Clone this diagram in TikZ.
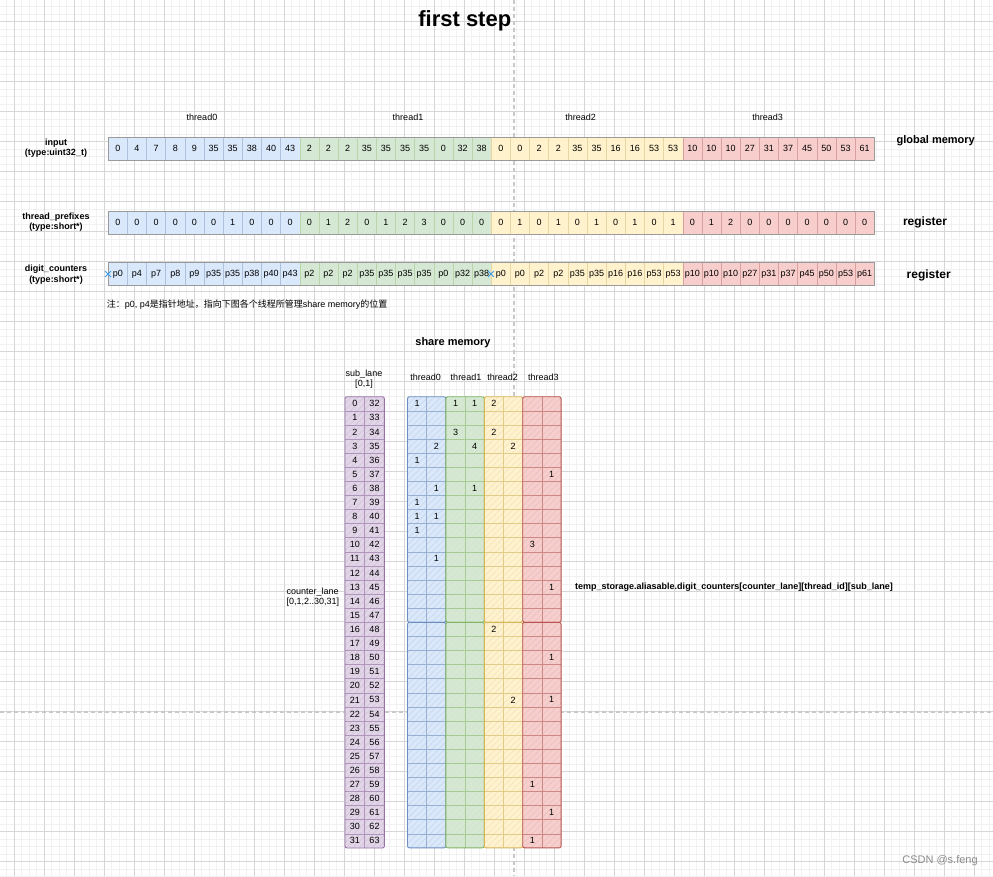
\documentclass[tikz,border=0pt]{standalone}
\usepackage{fontspec}
\setmainfont{Liberation Sans}
\newfontfamily\cjk{Noto Sans CJK SC}
\usetikzlibrary{patterns,patterns.meta,shapes.misc}
\newcommand\myfs[1]{\fontsize{#1}{#1}\selectfont}
\definecolor{bF}{HTML}{DAE8FC}\definecolor{bS}{HTML}{6C8EBF}
\definecolor{gF}{HTML}{D5E8D4}\definecolor{gS}{HTML}{82B366}
\definecolor{yF}{HTML}{FFF2CC}\definecolor{yS}{HTML}{D6B656}
\definecolor{rF}{HTML}{F8CECC}\definecolor{rS}{HTML}{B85450}
\definecolor{pF}{HTML}{E1D5E7}\definecolor{pS}{HTML}{9673A6}
\definecolor{gridMaj}{HTML}{D6D6D6}\definecolor{gridMin}{HTML}{F1F1F1}
\definecolor{pagebrk}{HTML}{C8C8C8}\definecolor{frame}{HTML}{9A9A9A}
\definecolor{xblue}{HTML}{3D9BE9}
\tikzset{
  cell/.style={inner sep=0, minimum width=19.15, minimum height=23, anchor=north west, font=\myfs{9}, line width=0.5},
  rowframe/.style={draw=frame, line width=1},
  lbl/.style={inner sep=0, font=\myfs{9}},
  boldlbl/.style={inner sep=0, align=center, font=\fontsize{9}{10.6}\selectfont\bfseries},
  reglbl/.style={inner sep=0, font=\myfs{12}\bfseries},
  smnum/.style={inner sep=0, font=\myfs{9}},
  xmark/.style={cross out, draw=xblue, line width=0.9, minimum size=5, inner sep=0},
  hatch/.style={pattern={Lines[angle=45,distance=4.5pt,line width=0.7pt]}, pattern color=#1}
}
\begin{document}
\begin{tikzpicture}[x=1pt,y=-1pt]
\useasboundingbox (0,0) rectangle (993,876);
\fill[white] (0,0) rectangle (993,876);
% background grid
\foreach \i in {0,...,133} \draw[gridMin, line width=0.8] ({-0.7+7.5*\i},0) -- ({-0.7+7.5*\i},876);
\foreach \i in {0,...,117} \draw[gridMin, line width=0.8] (0,{-0.8+7.5*\i}) -- (993,{-0.8+7.5*\i});
\foreach \i in {0,...,32} \draw[gridMaj, line width=0.9] ({14.3+30*\i},0) -- ({14.3+30*\i},876);
\foreach \i in {0,...,28} \draw[gridMaj, line width=0.9] (0,{21.7+30*\i}) -- (993,{21.7+30*\i});
\draw[pagebrk, line width=1.3, dash pattern=on 4 off 3] (514,0) -- (514,876);
\draw[pagebrk, line width=1.3, dash pattern=on 4 off 3] (0,712) -- (993,712);

% title
\node[inner sep=0, font=\myfs{22}\bfseries] (title) at (464.8,21) {first step};

% thread labels top
\node[lbl] (th0) at (202,117) {thread0};
\node[lbl] (th1) at (408,117) {thread1};
\node[lbl] (th2) at (580.7,117) {thread2};
\node[lbl] (th3) at (767.7,117) {thread3};

% left labels
\node[boldlbl] (linput) at (56,148) {input\\(type:uint32\_t)};
\node[boldlbl] (lprefix) at (56,222) {thread\_prefixes\\(type:short*)};
\node[boldlbl] (lcount) at (56,274.5) {digit\_counters\\(type:short*)};

% right labels
\node[inner sep=0, font=\myfs{11}\bfseries] (rglobal) at (935.7,140.7) {global memory};
\node[reglbl] (rreg1) at (925,222.7) {register};
\node[reglbl] (rreg2) at (928.7,275.7) {register};

% input row and digit counters row
\foreach \t/\fc/\sc/\vals in {0/bF/bS/{0,4,7,8,9,35,35,38,40,43},1/gF/gS/{2,2,2,35,35,35,35,0,32,38},2/yF/yS/{0,0,2,2,35,35,16,16,53,53},3/rF/rS/{10,10,10,27,31,37,45,50,53,61}}{
  \foreach \v [count=\i from 0] in \vals {
    \node[cell, fill=\fc, draw=\sc!55] (in-\t-\i) at ({108+(\t*10+\i)*19.15},137) {\v};
    \node[cell, fill=\fc, draw=\sc!55] (dc-\t-\i) at ({108+(\t*10+\i)*19.15},262.3) {p\v};
  }
}
% thread prefixes row
\foreach \t/\fc/\sc/\vals in {0/bF/bS/{0,0,0,0,0,0,1,0,0,0},1/gF/gS/{0,1,2,0,1,2,3,0,0,0},2/yF/yS/{0,1,0,1,0,1,0,1,0,1},3/rF/rS/{0,1,2,0,0,0,0,0,0,0}}{
  \foreach \v [count=\i from 0] in \vals {
    \node[cell, fill=\fc, draw=\sc!55] (tp-\t-\i) at ({108+(\t*10+\i)*19.15},211) {\v};
  }
}
\draw[rowframe] (in-0-0.north west) rectangle (in-3-9.south east);
\draw[rowframe] (tp-0-0.north west) rectangle (tp-3-9.south east);
\draw[rowframe] (dc-0-0.north west) rectangle (dc-3-9.south east);
\node[xmark] (xm1) at (dc-0-0.west) {};
\node[xmark] (xm2) at (dc-2-0.west) {};

% note
\node[inner sep=0, anchor=west, font=\myfs{9}] (note) at (106.7,305) {{\cjk 注：}p0, p4{\cjk 是指针地址，指向下图各个线程所管理}share memory{\cjk 的位置}};

% share memory
\node[inner sep=0, font=\myfs{11}\bfseries] (smtitle) at (453,342.7) {share memory};
\node[inner sep=0, align=center, font=\fontsize{9}{10.3}\selectfont] (sublane) at (364,379.2) {sub\_lane\\{[0,1]}};
\node[inner sep=0, align=left, anchor=west, font=\fontsize{9}{9.4}\selectfont] (clane) at (286.5,597) {counter\_lane\\{[0,1,2..30,31]}};
\node[inner sep=0, anchor=west, font=\myfs{9}\bfseries] (tsname) at (575,587.3) {temp\_storage.aliasable.digit\_counters[counter\_lane][thread\_id][sub\_lane]};

\node[lbl] (st0) at (425.7,377.7) {thread0};
\node[lbl] (st1) at (466,377.7) {thread1};
\node[lbl] (st2) at (502.7,377.7) {thread2};
\node[lbl] (st3) at (543.3,377.7) {thread3};

% purple sub_lane column
\path[fill=pF, rounded corners=2, postaction={hatch=pS!40}] (345,396.7) rectangle (384.4,848);
\foreach \r in {1,...,31} \draw[pS!75, line width=0.5] (345,{396.7+14.1*\r}) -- (384.4,{396.7+14.1*\r});
\draw[pS!75, line width=0.5] (364.7,396.7) -- (364.7,848);
\draw[pS, line width=0.9, rounded corners=2] (345,396.7) rectangle (384.4,848);
\foreach \r in {0,...,31} {
  \pgfmathtruncatemacro\rr{\r+32}
  \node[smnum] (sl-\r-0) at (354.9,{396.7+14.1*\r+7.05}) {\r};
  \node[smnum] (sl-\r-1) at (374.5,{396.7+14.1*\r+7.05}) {\rr};
}

% thread columns
\foreach \t/\fc/\sc in {0/bF/bS,1/gF/gS,2/yF/yS,3/rF/rS} {
  \pgfmathsetmacro\xa{407.5+38.4*\t}
  \foreach \h in {0,1} {
    \pgfmathsetmacro\ya{396.7+225.6*\h}
    \path[fill=\fc, rounded corners=2, postaction={hatch=\sc!35}] (\xa,\ya) rectangle ++(38.4,225.6);
    \foreach \r in {1,...,15} \draw[\sc!70, line width=0.5] (\xa,{\ya+14.1*\r}) -- ++(38.4,0);
    \draw[\sc!70, line width=0.5] ({\xa+19.2},\ya) -- ++(0,225.6);
    \draw[\sc, line width=0.9, rounded corners=2] (\xa,\ya) rectangle ++(38.4,225.6);
  }
}
\foreach \t/\r/\c/\v in {0/0/0/1,0/3/1/2,0/4/0/1,0/6/1/1,0/7/0/1,0/8/0/1,0/8/1/1,0/9/0/1,0/11/1/1,
  1/0/0/1,1/0/1/1,1/2/0/3,1/3/1/4,1/6/1/1,
  2/0/0/2,2/2/0/2,2/3/1/2,2/16/0/2,2/21/1/2,
  3/5/1/1,3/10/0/3,3/13/1/1,3/18/1/1,3/21/1/1,3/27/0/1,3/29/1/1,3/31/0/1} {
  \node[smnum] (sm-\t-\r-\c) at ({407.5+38.4*\t+19.2*\c+9.6},{396.7+14.1*\r+7.05}) {\v};
}

% watermark
\node[inner sep=0, font=\myfs{11}, text=black!45] (wm) at (940,860.7) {CSDN @s.feng};
\end{tikzpicture}
\end{document}
